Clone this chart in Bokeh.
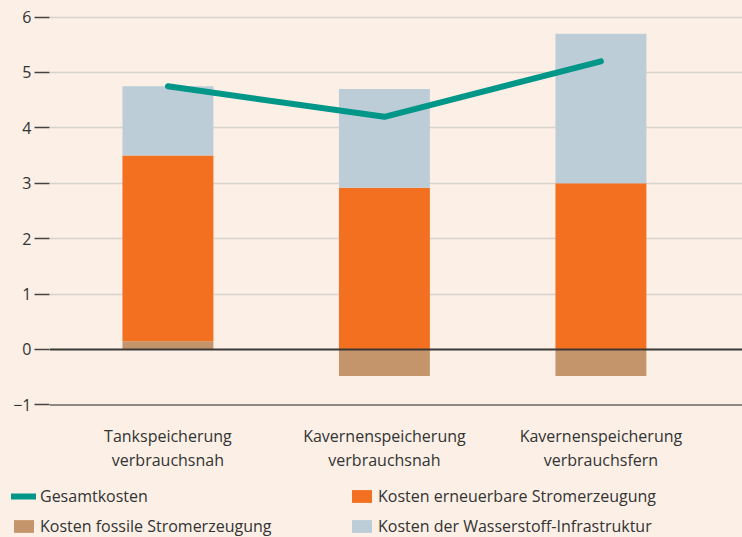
from bokeh.plotting import figure
from bokeh.layouts import column
from bokeh.models import Range1d, FixedTicker, Span, Legend, LegendItem, ColumnDataSource
from bokeh.core.properties import value
from bokeh.embed import file_html
from bokeh.resources import INLINE

# ---- data ----
cat_line1 = ["Tankspeicherung", "Kavernenspeicherung", "Kavernenspeicherung"]
cat_line2 = ["verbrauchsnah", "verbrauchsnah", "verbrauchsfern"]
fossil = [0.15, -0.48, -0.48]
renewable = [3.35, 2.92, 3.0]
infra = [1.25, 1.78, 2.7]
total = [4.75, 4.2, 5.2]
y_ticks = [-1, 0, 1, 2, 3, 4, 5, 6]
y_tick_labels = ["\u22121", "0", "1", "2", "3", "4", "5", "6"]
legend_labels = ["Gesamtkosten", "Kosten fossile Stromerzeugung",
                 "Kosten erneuerbare Stromerzeugung", "Kosten der Wasserstoff-Infrastruktur"]

BG = "#fbefe6"
C_FOSSIL = "#c4956a"
C_REN = "#f37021"
C_INFRA = "#bccdd7"
C_TOTAL = "#009688"
TXT = "#333333"
FONT = "Open Sans"

x = list(range(len(cat_line1)))
ren_bottom = [max(f, 0) for f in fossil]
ren_top = [b + r for b, r in zip(ren_bottom, renewable)]
infra_top = [t + i for t, i in zip(ren_top, infra)]

src = ColumnDataSource(dict(x=x, fossil=fossil, ren_bottom=ren_bottom, ren_top=ren_top,
                            infra_top=infra_top, total=total, zero=[0] * len(x)))

p = figure(width=742, height=480, output_backend="svg", toolbar_location=None,
           x_range=Range1d(-0.547, 2.654), y_range=Range1d(-2.365, 6.083),
           x_axis_location=None, min_border_left=49, min_border_right=0,
           min_border_top=12, min_border_bottom=0,
           styles={"background-color": BG})
p.frame_align = False
p.background_fill_color = BG
p.border_fill_color = BG
p.outline_line_color = None

ax = p.yaxis[0]
ax.ticker = FixedTicker(ticks=y_ticks)
ax.major_label_overrides = {t: l for t, l in zip(y_ticks, y_tick_labels)}
ax.axis_line_color = None
ax.major_tick_in = 0
ax.major_tick_out = 15
ax.major_tick_line_color = "#444444"
ax.major_tick_line_width = 1.5
ax.minor_tick_line_color = None
ax.major_label_standoff = 3
ax.major_label_text_font = FONT
ax.major_label_text_font_size = "16px"
ax.major_label_text_color = TXT

p.xgrid.visible = False
p.ygrid.ticker = FixedTicker(ticks=[t for t in y_ticks if t > 0])
p.ygrid.grid_line_color = "#d8d2cd"
p.ygrid.grid_line_width = 1.5

W = 0.42

def draw_series(fig):
    rf = fig.vbar(x="x", width=W, bottom="zero", top="fossil", source=src, fill_color=C_FOSSIL, line_color=None)
    rr = fig.vbar(x="x", width=W, bottom="ren_bottom", top="ren_top", source=src, fill_color=C_REN, line_color=None)
    ri = fig.vbar(x="x", width=W, bottom="ren_top", top="infra_top", source=src, fill_color=C_INFRA, line_color=None)
    return rf, rr, ri

draw_series(p)
p.add_layout(Span(location=-1, dimension="width", line_color="#8e8884", line_width=2))
p.add_layout(Span(location=0, dimension="width", line_color="#3d3936", line_width=1.8))
p.line(x="x", y="total", source=src, line_color=C_TOTAL, line_width=6, line_cap="round", line_join="round")

lab = ColumnDataSource(dict(x=x, l1=cat_line1, l2=cat_line2, y1=[-1.57] * len(x), y2=[-1.986] * len(x)))
for col, ycol in (("l1", "y1"), ("l2", "y2")):
    p.text(x="x", y=ycol, text=col, source=lab, text_align="center", text_baseline="middle",
           text_font=value(FONT), text_font_size="16px", text_color=TXT)

# ---- legend strip (same series, scrolled out of view; only the legend shows) ----
q = figure(width=742, height=57, output_backend="svg", toolbar_location=None,
           x_range=Range1d(100, 101), y_range=Range1d(100, 101),
           x_axis_location=None, y_axis_location=None,
           min_border_left=0, min_border_right=0, min_border_top=0, min_border_bottom=0,
           styles={"background-color": BG})
q.frame_align = False
q.background_fill_color = BG
q.border_fill_color = BG
q.outline_line_color = None
q.grid.visible = False

lf, lr, li = draw_series(q)
lt = q.line(x="x", y="total", source=src, line_color=C_TOTAL, line_width=6, line_cap="round")

def mk_legend(items, xloc):
    return Legend(items=items, location=(xloc, 0), orientation="vertical",
                  background_fill_alpha=0, border_line_color=None, padding=0, margin=0,
                  spacing=8, glyph_width=25, glyph_height=16, label_height=20,
                  label_standoff=4, label_text_font=FONT, label_text_font_size="16px",
                  label_text_color=TXT)

q.add_layout(mk_legend([LegendItem(label=legend_labels[0], renderers=[lt]),
                        LegendItem(label=legend_labels[1], renderers=[lf])], 11))
q.add_layout(mk_legend([LegendItem(label=legend_labels[2], renderers=[lr]),
                        LegendItem(label=legend_labels[3], renderers=[li])], 349))

layout = column(p, q, spacing=0, styles={"background-color": BG})
open("out.html", "w").write(file_html(layout, INLINE))
